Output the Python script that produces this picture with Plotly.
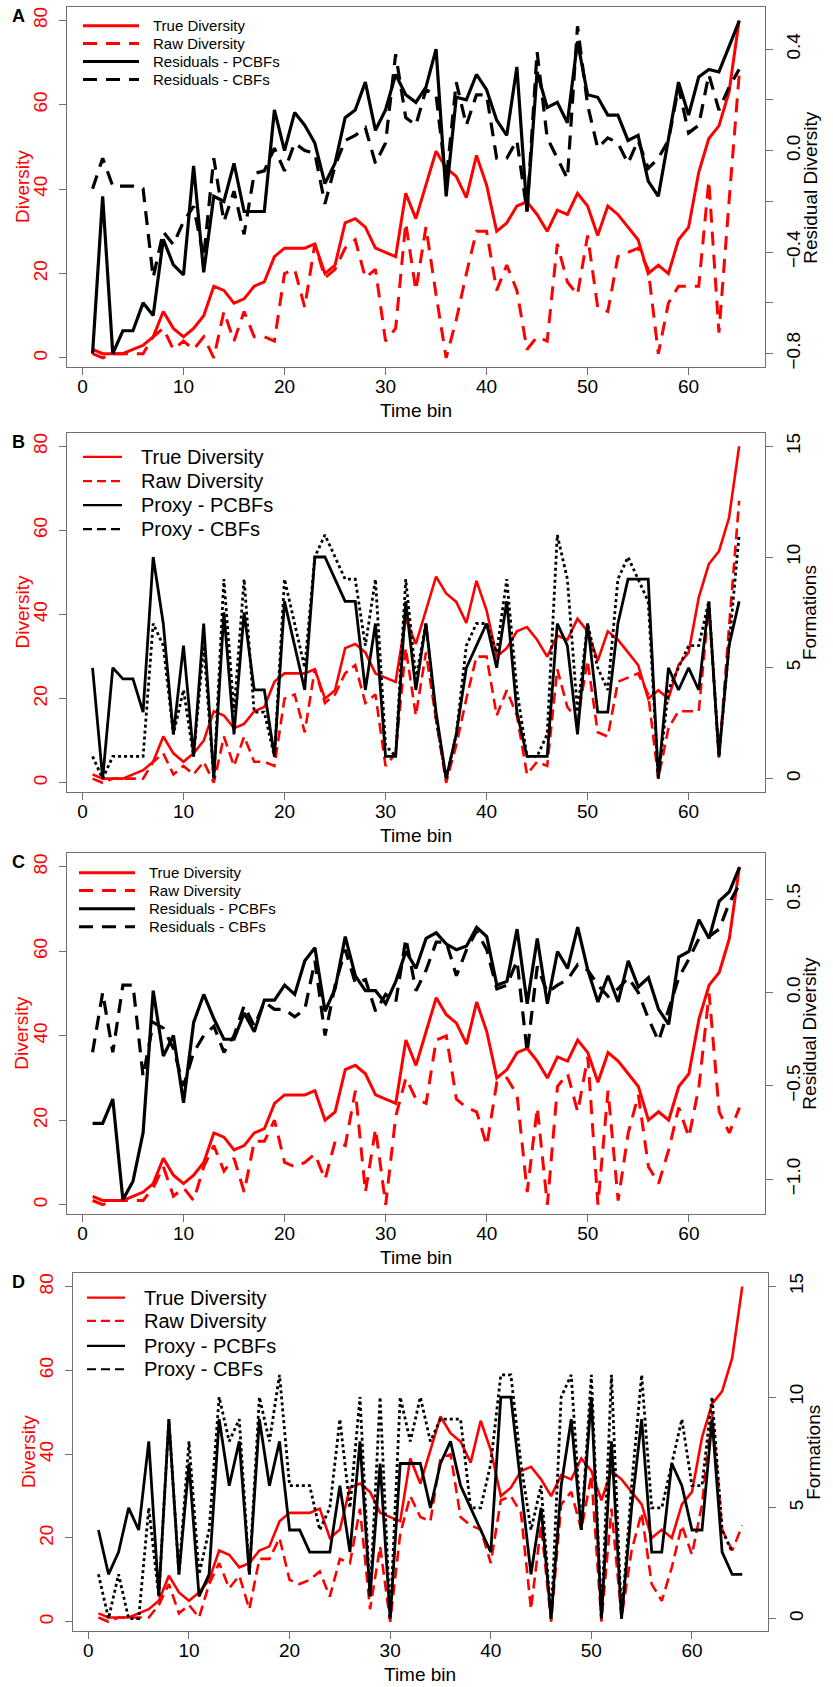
import plotly.graph_objects as go

# ---------------------------------------------------------------- data
time_bin = list(range(1, 66))

true_div = [2, 1, 1, 1, 2, 3, 5, 11, 7, 5,
            7, 10, 17, 16, 13, 14, 17, 18, 24, 26,
            26, 26, 27, 20, 22, 32, 33, 31, 26, 25,
            24, 39, 33, 41, 49, 45, 43, 38, 48, 41,
            30, 32, 36, 37, 34, 30, 35, 34, 39, 36,
            29, 36, 34, 31, 28, 20, 22, 20, 28, 31,
            44, 52, 55, 63, 80]

raw_div_ab = [1, 0, 1, 1, 1, 1, 5, 7, 2, 4,
              2, 5, 0, 11, 4, 11, 5, 5, 4, 20,
              21, 12, 27, 19, 21, 26, 28, 19, 21, 4,
              7, 32, 16, 31, 15, 0, 9, 20, 30, 30,
              16, 22, 16, 2, 5, 4, 27, 18, 15, 29,
              12, 11, 24, 25, 26, 21, 1, 13, 17, 17,
              17, 42, 6, 37, 67]

raw_div_cd = [1, 0, 1, 1, 1, 1, 4, 9, 2, 4,
              1, 9, 14, 8, 11, 3, 15, 15, 20, 10,
              9, 10, 12, 6, 15, 14, 27, 3, 18, 0,
              21, 30, 25, 24, 39, 40, 25, 23, 22, 14,
              29, 30, 26, 3, 23, 0, 28, 31, 22, 35,
              0, 27, 1, 17, 26, 9, 5, 13, 23, 16,
              28, 50, 22, 17, 23]

resid_pcbf_a = [-0.80, -0.18, -0.80, -0.71, -0.71, -0.60, -0.65, -0.35, -0.45, -0.49,
                -0.06, -0.48, -0.18, -0.20, -0.05, -0.24, -0.24, -0.24, 0.16, 0.00,
                0.15, 0.10, 0.03, -0.13, -0.05, 0.13, 0.16, 0.27, 0.08, 0.16,
                0.30, 0.22, 0.19, 0.25, 0.40, -0.18, 0.21, 0.20, 0.30, 0.24,
                0.12, 0.06, 0.33, -0.24, 0.31, 0.17, 0.19, 0.11, 0.43, 0.22,
                0.21, 0.14, 0.14, 0.04, 0.06, -0.12, -0.18, 0.04, 0.27, 0.14,
                0.29, 0.32, 0.31, 0.41, 0.51]

resid_cbf_a = [-0.15, -0.03, -0.14, -0.14, -0.14, -0.15, -0.50, -0.32, -0.37, -0.28,
               -0.22, -0.42, -0.03, -0.28, -0.16, -0.33, -0.09, -0.08, 0.01, -0.08,
               0.03, 0.00, -0.01, -0.21, -0.06, 0.04, 0.06, 0.09, -0.05, 0.03,
               0.38, 0.13, 0.10, 0.24, 0.22, -0.12, 0.27, 0.10, 0.22, 0.22,
               -0.03, -0.03, 0.04, -0.24, 0.39, 0.05, -0.03, -0.11, 0.49, 0.18,
               0.01, 0.05, 0.03, -0.05, 0.04, -0.07, -0.03, 0.04, 0.25, 0.07,
               0.10, 0.30, 0.16, 0.25, 0.32]

proxy_pcbf_b = [5, 0, 5, 4.5, 4.5, 3, 10, 7, 2, 6,
                1, 7, 0, 7.5, 2, 7.5, 4, 4, 1, 8,
                6, 4, 10, 10, 9, 8, 8, 4, 7, 1,
                1, 8, 4, 7, 3, 0, 2, 5, 6, 7,
                5, 8, 3, 1, 1, 1, 7, 6, 2, 7,
                3, 3, 7, 9, 9, 9, 0, 5, 4, 5,
                4, 8, 1, 6, 8]

proxy_cbf_b = [1, 0, 1, 1, 1, 1, 7, 6, 2, 4,
               1, 6, 0, 9, 3, 9, 3, 3, 1, 9,
               7, 5, 10, 11, 10, 9, 9, 6, 9, 1.5,
               1, 9, 4.5, 7, 2.7, 0, 2, 6, 7, 7,
               5.7, 9, 4, 1, 1, 2, 11, 9, 3, 7,
               5, 4, 9, 10, 9, 8, 0, 4, 5, 6,
               6, 8, 1, 6, 11]

resid_pcbf_c = [-0.70, -0.70, -0.57, -1.11, -1.01, -0.75, 0.01, -0.34, -0.23, -0.59,
                -0.16, -0.01, -0.14, -0.25, -0.25, -0.11, -0.21, -0.04, -0.04, 0.04,
                -0.01, 0.17, 0.24, -0.10, 0.02, 0.30, 0.09, 0.01, 0.01, -0.06,
                0.06, 0.22, 0.13, 0.29, 0.32, 0.26, 0.23, 0.25, 0.35, 0.30,
                0.04, 0.06, 0.34, -0.06, 0.29, -0.06, 0.22, 0.13, 0.35, 0.12,
                -0.05, 0.09, -0.05, 0.17, 0.03, 0.08, -0.09, -0.17, 0.19, 0.22,
                0.39, 0.29, 0.49, 0.54, 0.67]

resid_cbf_c = [-0.32, 0.00, -0.32, 0.04, 0.04, -0.45, -0.16, -0.19, -0.30, -0.50,
               -0.32, -0.23, -0.18, -0.32, -0.23, -0.07, -0.18, -0.05, -0.09, -0.09,
               -0.13, -0.09, 0.17, -0.23, 0.04, 0.23, 0.05, 0.07, -0.10, -0.01,
               -0.05, 0.29, 0.01, 0.12, 0.27, 0.27, 0.09, 0.23, 0.33, 0.23,
               0.02, 0.04, 0.17, -0.32, 0.14, 0.00, 0.04, 0.07, 0.15, 0.12,
               0.04, -0.02, 0.02, 0.08, 0.00, -0.14, -0.26, -0.09, 0.08, 0.18,
               0.29, 0.30, 0.34, 0.48, 0.58]

proxy_pcbf_d = [4, 2, 3, 5, 4, 8, 1, 9, 2, 7,
                1, 2, 9, 6, 8, 2, 9, 6, 8, 4,
                4, 3, 3, 3, 6, 3, 8, 1, 7, 0,
                7, 7, 7, 5, 7, 8, 6, 5, 4, 3,
                10, 10, 6, 2, 5, 0, 6, 9, 4, 10,
                0, 8, 0, 5, 9, 3, 3, 7, 6, 4,
                4, 9, 3, 2, 2]

proxy_cbf_d = [2, 0, 2, 0, 0, 5, 1, 9, 2, 8,
               2, 4, 10, 8, 9, 2, 10, 8, 11, 6,
               6, 6, 4, 5, 9, 5, 10, 1, 10, 0,
               10, 8, 10, 8, 9, 9, 9, 5, 5, 7,
               11, 11, 7, 4, 6, 0, 10, 11, 4, 11,
               0, 11, 0, 6, 11, 5, 5, 7, 9, 6,
               6, 10, 4, 3, None]

x_ticks = [0, 10, 20, 30, 40, 50, 60]
div_ticks = [0, 20, 40, 60, 80]
resid_ticks_a = [-0.8, -0.6, -0.4, -0.2, 0.0, 0.2, 0.4]
resid_labels_a = ["\u22120.8", "", "\u22120.4", "", "0.0", "", "0.4"]
resid_ticks_c = [-1.0, -0.5, 0.0, 0.5]
resid_labels_c = ["\u22121.0", "\u22120.5", "0.0", "0.5"]
form_ticks = [0, 5, 10, 15]
form_labels = ["0", "5", "10", "15"]

# ---------------------------------------------------------------- layout helpers
W, H = 833, 1687
RED, BLACK, FRAME = "#ff0000", "#000000", "#707070"
FONT = "Liberation Sans, Arial, Helvetica, sans-serif"


def fx(p):
    return p / W


def fy(p):
    return 1 - p / H


panels = [
    dict(tag="A", box=(66.7, 6.0, 765.0, 366.7), yr=(-0.853, 0.566),
         rticks=resid_ticks_a, rlabels=resid_labels_a, rtitle="Residual Diversity",
         raw=raw_div_ab, s1=resid_pcbf_a, s2=resid_cbf_a,
         names=["True Diversity", "Raw Diversity", "Residuals - PCBFs", "Residuals - CBFs"],
         lw=3.0, bw=3.2, rdash="14px,9px", bdash="14px,9px",
         leg=dict(x0=83, x1=139, tx=151, rows=[24.7, 42.7, 60.7, 78.7], fs=15,
                  ldash="14px,9px", ldash2="14px,9px", lw=3.0)),
    dict(tag="B", box=(66.7, 432.7, 765.0, 792.3), yr=(-0.6, 15.6),
         rticks=form_ticks, rlabels=form_labels, rtitle="Formations",
         raw=raw_div_ab, s1=proxy_pcbf_b, s2=proxy_cbf_b,
         names=["True Diversity", "Raw Diversity", "Proxy - PCBFs", "Proxy - CBFs"],
         lw=2.6, bw=2.8, rdash="11px,6px", bdash="3px,3px",
         leg=dict(x0=83, x1=122, tx=139, rows=[456.7, 481.0, 505.0, 529.0], fs=20,
                  ldash="9px,5px", ldash2="9px,5px", lw=2.2)),
    dict(tag="C", box=(66.7, 854.0, 765.3, 1215.0), yr=(-1.185, 0.745),
         rticks=resid_ticks_c, rlabels=resid_labels_c, rtitle="Residual Diversity",
         raw=raw_div_cd, s1=resid_pcbf_c, s2=resid_cbf_c,
         names=["True Diversity", "Raw Diversity", "Residuals - PCBFs", "Residuals - CBFs"],
         lw=3.0, bw=3.2, rdash="14px,9px", bdash="14px,9px",
         leg=dict(x0=79, x1=135, tx=147, rows=[873.3, 891.0, 909.3, 927.3], fs=15,
                  ldash="14px,9px", ldash2="14px,9px", lw=3.0)),
    dict(tag="D", box=(72.7, 1274.7, 768.0, 1632.7), yr=(-0.55, 15.58),
         rticks=form_ticks, rlabels=form_labels, rtitle="Formations",
         raw=raw_div_cd, s1=proxy_pcbf_d, s2=proxy_cbf_d,
         names=["True Diversity", "Raw Diversity", "Proxy - PCBFs", "Proxy - CBFs"],
         lw=2.6, bw=2.8, rdash="11px,6px", bdash="3px,3px",
         leg=dict(x0=87, x1=125, tx=142, rows=[1299.0, 1322.3, 1347.3, 1370.7], fs=20,
                  ldash="9px,5px", ldash2="9px,5px", lw=2.2)),
]

fig = go.Figure()
shapes, annotations = [], []
layout_axes = {}

for i, p in enumerate(panels, start=1):
    xa = "x" if i == 1 else f"x{i}"
    yl = "y" if i == 1 else f"y{2 * i - 1}"
    yr_ = f"y{2 * i}"
    x0, top, x1, bot = p["box"]
    xdom = [fx(x0), fx(x1)]
    ydom = [fy(bot), fy(top)]

    # diversity curves on the left axis
    fig.add_trace(go.Scatter(x=time_bin, y=true_div, mode="lines", xaxis=xa, yaxis=yl,
                             line=dict(color=RED, width=p["lw"]), name=p["names"][0]))
    fig.add_trace(go.Scatter(x=time_bin, y=p["raw"], mode="lines", xaxis=xa, yaxis=yl,
                             line=dict(color=RED, width=p["lw"], dash=p["rdash"]),
                             name=p["names"][1]))
    # proxy / residual curves on the right axis
    fig.add_trace(go.Scatter(x=time_bin, y=p["s1"], mode="lines", xaxis=xa, yaxis=yr_,
                             line=dict(color=BLACK, width=p["bw"]), name=p["names"][2]))
    fig.add_trace(go.Scatter(x=time_bin, y=p["s2"], mode="lines", xaxis=xa, yaxis=yr_,
                             line=dict(color=BLACK, width=p["bw"], dash=p["bdash"]),
                             name=p["names"][3]))

    xkey = "xaxis" if i == 1 else f"xaxis{i}"
    ylkey = "yaxis" if i == 1 else f"yaxis{2 * i - 1}"
    yrkey = f"yaxis{2 * i}"
    layout_axes[xkey] = dict(
        domain=xdom, range=[-1.56, 67.56], anchor=yl,
        tickvals=x_ticks, ticks="outside", ticklen=7, tickcolor=FRAME, tickwidth=1,
        tickfont=dict(size=19, color=BLACK, family=FONT), ticklabelstandoff=-5,
        showline=True, mirror=True, linecolor=FRAME, linewidth=1,
        showgrid=False, zeroline=False, fixedrange=True)
    layout_axes[ylkey] = dict(
        domain=ydom, range=[-2.16, 83.16], anchor=xa,
        tickvals=div_ticks, ticks="outside", ticklen=7, tickcolor=FRAME, tickwidth=1,
        tickangle=-90, tickfont=dict(size=19, color=RED, family=FONT), ticklabelstandoff=4,
        showline=True, mirror=True, linecolor=FRAME, linewidth=1,
        showgrid=False, zeroline=False, fixedrange=True)
    layout_axes[yrkey] = dict(
        domain=ydom, range=list(p["yr"]), anchor=xa, overlaying=yl, side="right",
        tickvals=p["rticks"], ticktext=p["rlabels"], ticks="outside", ticklen=7,
        tickcolor=FRAME, tickwidth=1, tickangle=-90,
        tickfont=dict(size=19, color=BLACK, family=FONT), ticklabelstandoff=4,
        showline=False, showgrid=False, zeroline=False, fixedrange=True)

    # axis titles and panel letter
    cy = (top + bot) / 2
    cx = (x0 + x1) / 2
    annotations += [
        dict(x=fx(x0 - 44.7), y=fy(cy), xref="paper", yref="paper", text="Diversity",
             textangle=-90, showarrow=False, xanchor="center", yanchor="middle",
             font=dict(size=19, color=RED, family=FONT)),
        dict(x=fx(x1 + 44.7), y=fy(cy), xref="paper", yref="paper", text=p["rtitle"],
             textangle=-90, showarrow=False, xanchor="center", yanchor="middle",
             font=dict(size=19, color=BLACK, family=FONT)),
        dict(x=fx(cx), y=fy(bot + 43.5), xref="paper", yref="paper", text="Time bin",
             showarrow=False, xanchor="center", yanchor="middle",
             font=dict(size=19, color=BLACK, family=FONT)),
        dict(x=fx(18), y=fy(top + 9), xref="paper", yref="paper", text=f"<b>{p['tag']}</b>",
             showarrow=False, xanchor="center", yanchor="middle",
             font=dict(size=18, color=BLACK, family=FONT)),
    ]

    # legend block drawn inside the plotting box
    lg = p["leg"]
    styles = [(RED, None), (RED, lg["ldash"]), (BLACK, None), (BLACK, lg["ldash2"])]
    for (col, dsh), row, label in zip(styles, lg["rows"], p["names"]):
        ln = dict(color=col, width=lg["lw"])
        if dsh:
            ln["dash"] = dsh
        shapes.append(dict(type="line", xref="paper", yref="paper",
                           x0=fx(lg["x0"]), x1=fx(lg["x1"]), y0=fy(row), y1=fy(row), line=ln))
        annotations.append(dict(x=fx(lg["tx"]), y=fy(row), xref="paper", yref="paper",
                                text=label, showarrow=False, xanchor="left",
                                yanchor="middle",
                                font=dict(size=lg["fs"], color=BLACK, family=FONT)))

fig.update_layout(
    width=W, height=H, margin=dict(l=0, r=0, t=0, b=0, pad=0),
    paper_bgcolor="white", plot_bgcolor="white", showlegend=False,
    font=dict(family=FONT, color=BLACK),
    shapes=shapes, annotations=annotations, **layout_axes)

fig.write_html("out.html", post_script="document.body.style.margin='0';")
